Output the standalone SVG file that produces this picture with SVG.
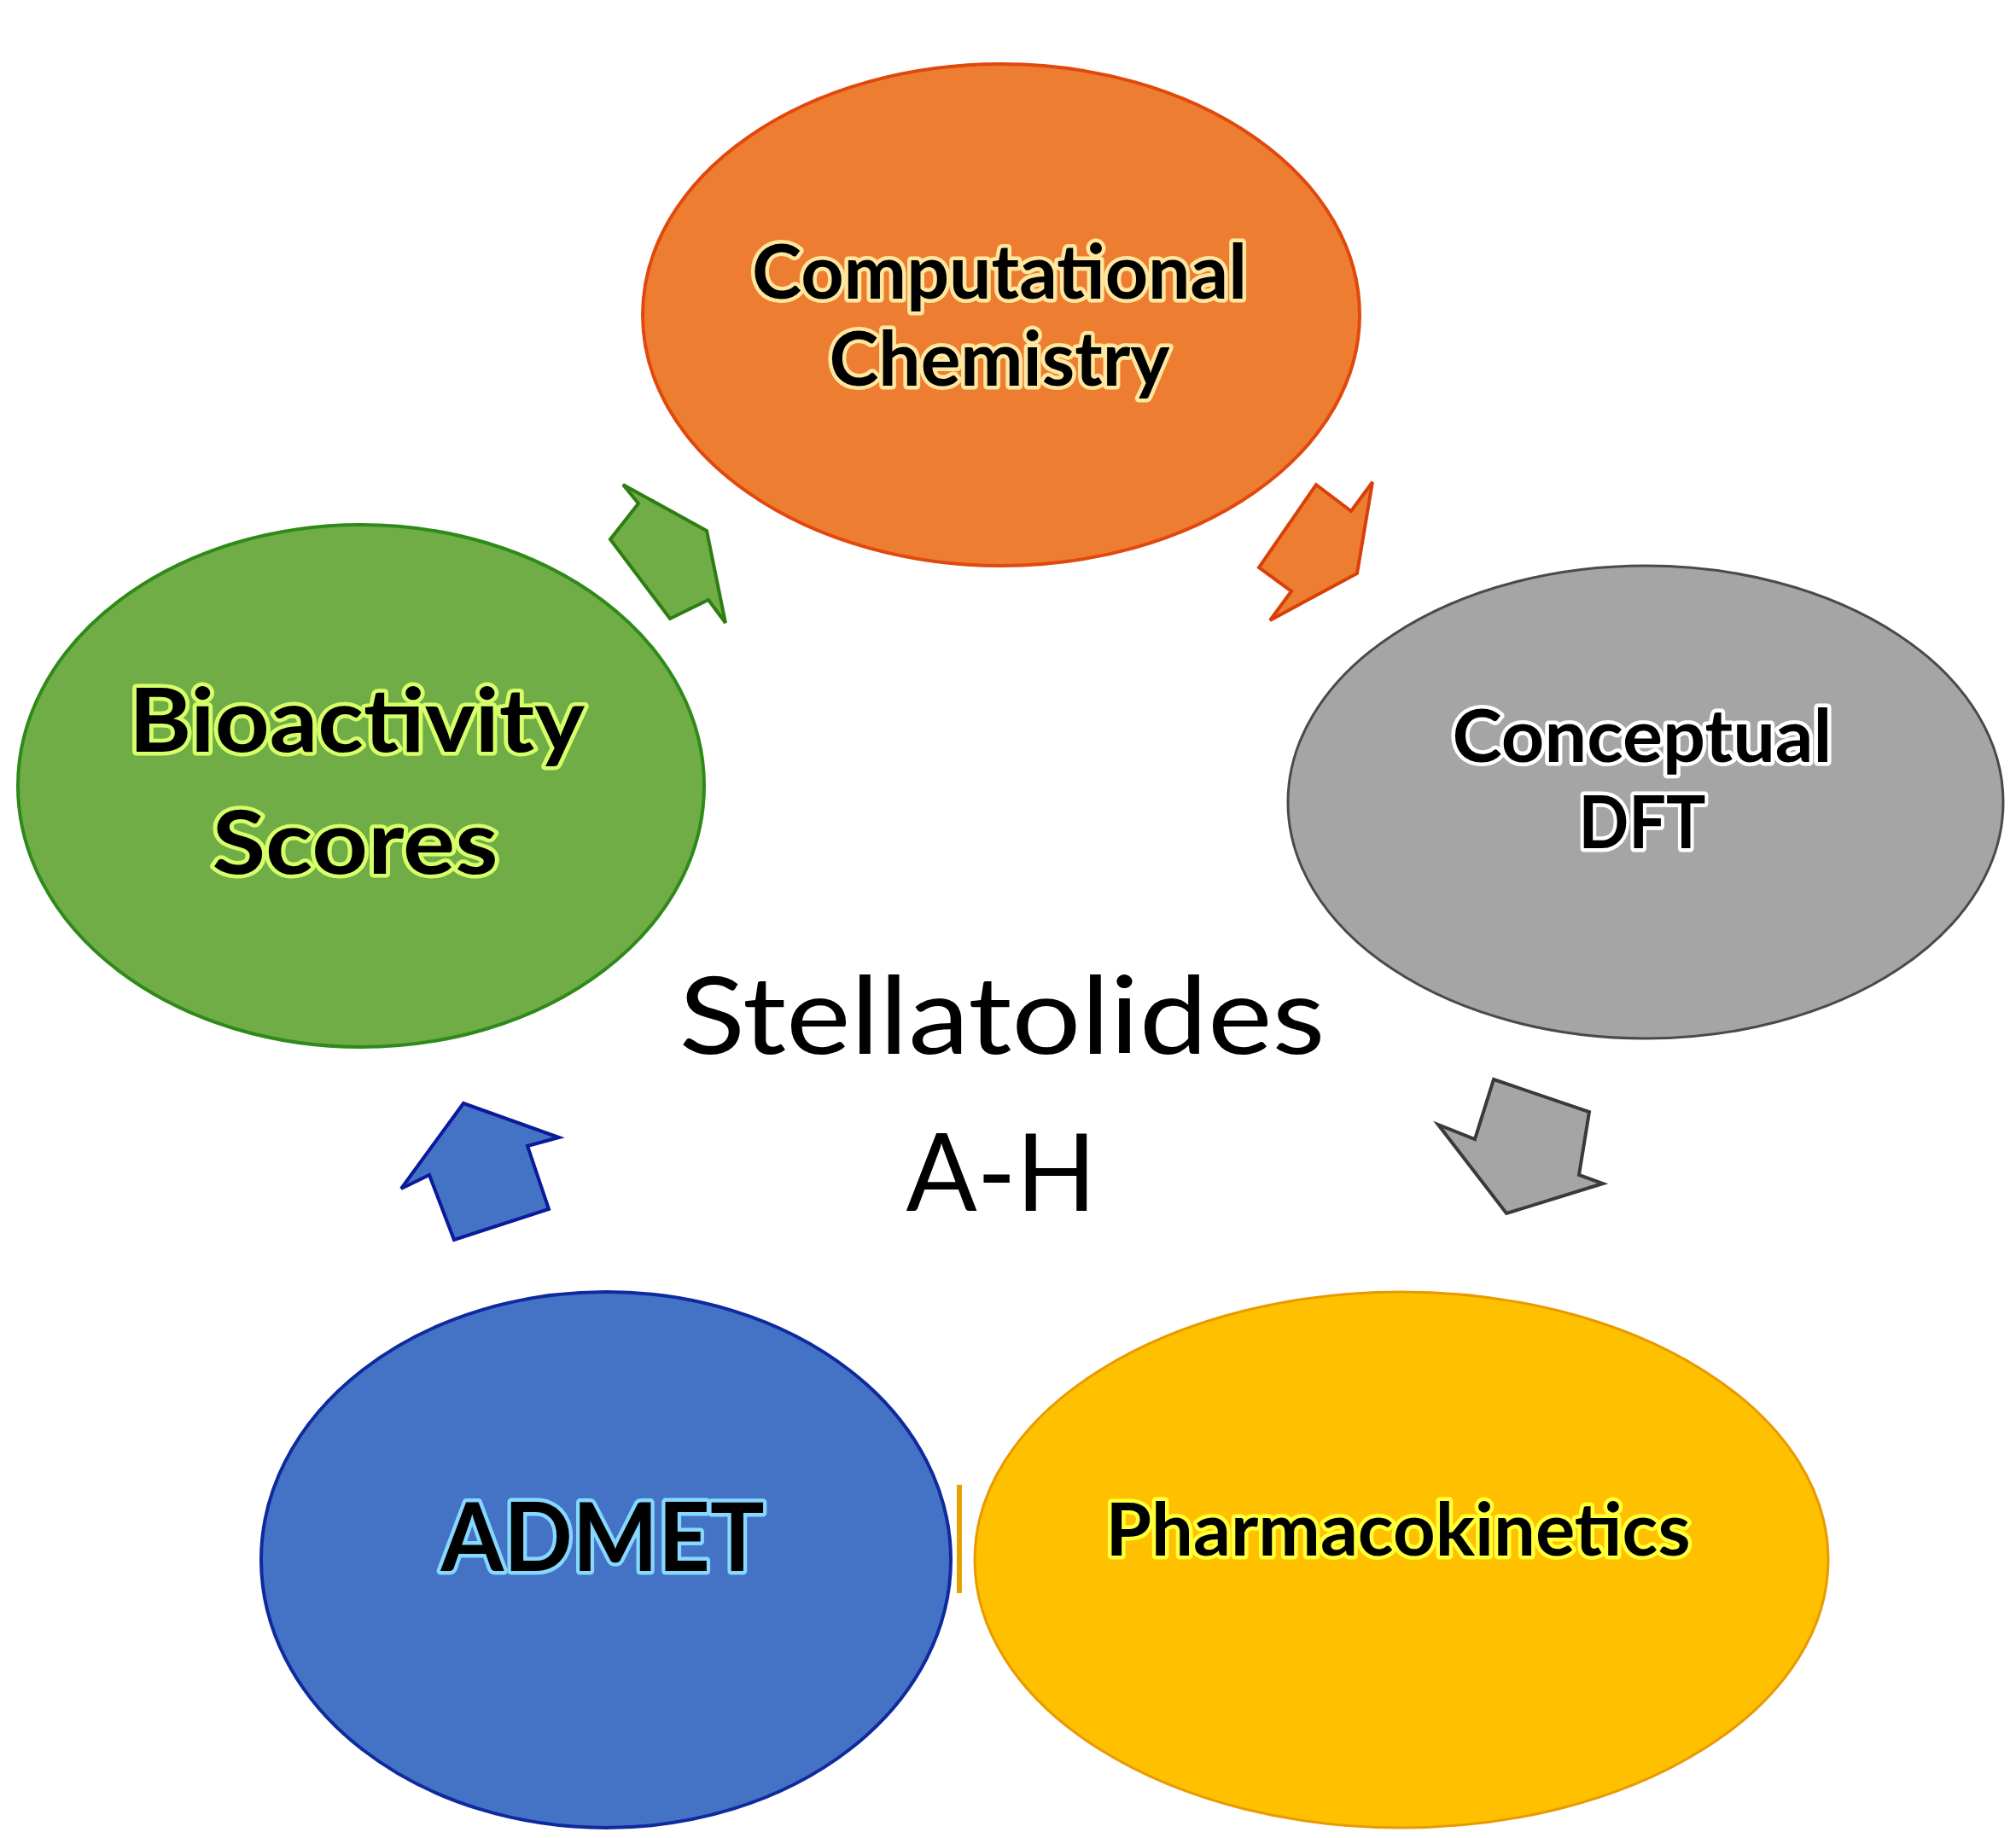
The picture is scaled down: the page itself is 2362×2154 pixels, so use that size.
<svg xmlns="http://www.w3.org/2000/svg" width="2362" height="2154" viewBox="0 0 2362 2154">
<style>
.lbl{font-family:Lato,"Open Sans","Liberation Sans",sans-serif;font-weight:700;fill:#000;paint-order:stroke;stroke-width:9;stroke-linejoin:round}
.ctr{font-family:Lato,"Open Sans","Liberation Sans",sans-serif;font-weight:400;fill:#000}
.arr{stroke-width:4;stroke-linejoin:miter}
</style>
<rect width="2362" height="2154" fill="#ffffff"/>
<g id="connectors">
  <polygon class="arr" fill="#70AD47" stroke="#2E7D12" points="715,632 748,590 730,568 828,622 850,730 830,703 785,725"/>
  <polygon class="arr" fill="#ED7D31" stroke="#D8400A" points="1542,568 1583,599 1608,565 1590,672 1488,727 1513,693 1475,665"/>
  <polygon class="arr" fill="#A5A5A5" stroke="#3A3A3A" points="1750,1265 1862,1303 1850,1377 1878,1387 1765,1422 1685,1318 1728,1335"/>
  <polygon class="arr" fill="#4472C4" stroke="#0A1A9A" points="543,1293 655,1333 618,1343 643,1417 532,1453 503,1377 470,1393"/>
  <line x1="1124" y1="1740" x2="1124" y2="1867" stroke="#E6A200" stroke-width="6"/>
</g>
<g id="node-computational">
  <ellipse cx="1173" cy="369" rx="420" ry="294" fill="#ED7D31" stroke="#E0480E" stroke-width="4"/>
  <text class="lbl" stroke="#FFE7A0" x="1171" y="350" font-size="88" text-anchor="middle" textLength="580" lengthAdjust="spacingAndGlyphs">Computational</text>
  <text class="lbl" stroke="#FFE7A0" x="1171" y="452" font-size="88" text-anchor="middle" textLength="399" lengthAdjust="spacingAndGlyphs">Chemistry</text>
</g>
<g id="node-dft">
  <ellipse cx="1928" cy="940" rx="419" ry="277" fill="#A5A5A5" stroke="#4A4A4A" stroke-width="3"/>
  <text class="lbl" stroke="#FFFFFF" x="1924" y="893" font-size="86" text-anchor="middle" textLength="445" lengthAdjust="spacingAndGlyphs">Conceptual</text>
  <text class="lbl" stroke="#FFFFFF" x="1924" y="994" font-size="86" text-anchor="middle" textLength="149" lengthAdjust="spacingAndGlyphs">DFT</text>
</g>
<g id="node-bioactivity">
  <ellipse cx="423" cy="921" rx="402" ry="306" fill="#70AD47" stroke="#2F8A1A" stroke-width="4"/>
  <text class="lbl" stroke="#D6FF6A" x="418" y="881" font-size="104" text-anchor="middle" textLength="534" lengthAdjust="spacingAndGlyphs">Bioactivity</text>
  <text class="lbl" stroke="#D6FF6A" x="416" y="1024" font-size="104" text-anchor="middle" textLength="335" lengthAdjust="spacingAndGlyphs">Scores</text>
</g>
<g id="node-admet">
  <ellipse cx="710" cy="1828" rx="404" ry="314" fill="#4472C4" stroke="#0F2A9E" stroke-width="4"/>
  <text class="lbl" stroke="#86D8FF" x="706" y="1841" font-size="112" text-anchor="middle" textLength="379" lengthAdjust="spacingAndGlyphs">ADMET</text>
</g>
<g id="node-pharmacokinetics">
  <ellipse cx="1642" cy="1828" rx="500" ry="314" fill="#FFC000" stroke="#E89A00" stroke-width="3"/>
  <text class="lbl" stroke="#FFFF3A" x="1638" y="1823" font-size="86" text-anchor="middle" textLength="685" lengthAdjust="spacingAndGlyphs">Pharmacokinetics</text>
</g>
<g id="center-label">
  <text class="ctr" x="1174" y="1235" font-size="126" text-anchor="middle" textLength="757" lengthAdjust="spacingAndGlyphs">Stellatolides</text>
  <text class="ctr" x="1173" y="1419" font-size="126" text-anchor="middle" textLength="223" lengthAdjust="spacingAndGlyphs">A-H</text>
</g>
</svg>
